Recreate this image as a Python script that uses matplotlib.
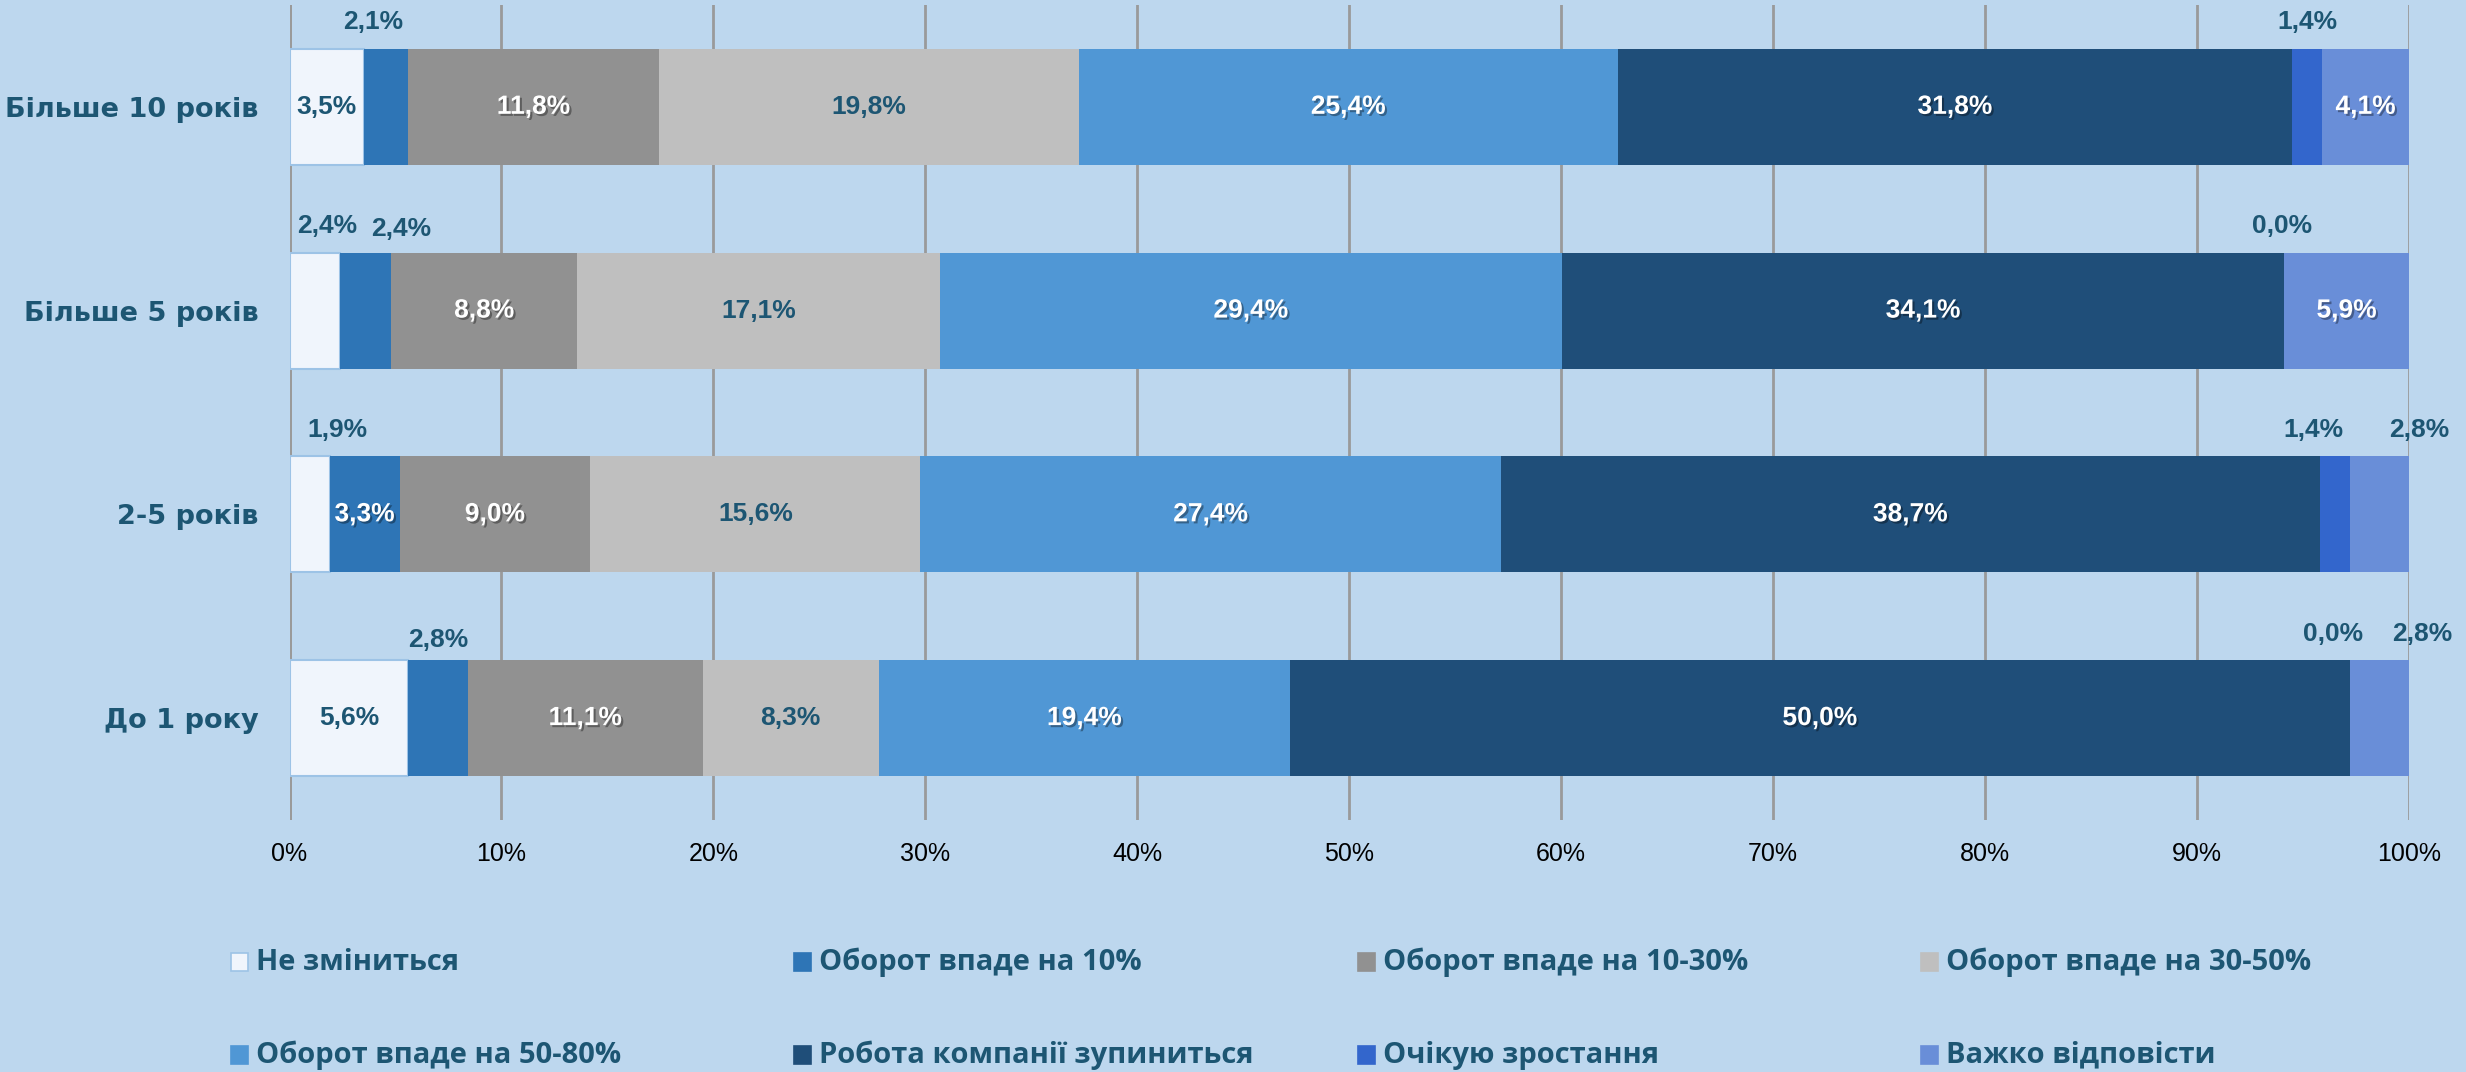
#!/usr/bin/env python3
"""Turnover expectations by company age — 100% stacked horizontal bars."""
import matplotlib

matplotlib.use("Agg")
import matplotlib.pyplot as plt  # noqa: E402
import matplotlib.patheffects as pe  # noqa: E402
from matplotlib.patches import Rectangle  # noqa: E402
import numpy as np  # noqa: E402

CATEGORIES = ["Більше 10 років", "Більше 5 років", "2-5 років", "До 1 року"]
SERIES = [
    "Не зміниться",
    "Оборот впаде на 10%",
    "Оборот впаде на 10-30%",
    "Оборот впаде на 30-50%",
    "Оборот впаде на 50-80%",
    "Робота компанії зупиниться",
    "Очікую зростання",
    "Важко відповісти",
]
# values per series, rows in CATEGORIES order
NO_CHANGE = [3.5, 2.4, 1.9, 5.6]
DROP_10 = [2.1, 2.4, 3.3, 2.8]
DROP_10_30 = [11.8, 8.8, 9.0, 11.1]
DROP_30_50 = [19.8, 17.1, 15.6, 8.3]
DROP_50_80 = [25.4, 29.4, 27.4, 19.4]
STOP = [31.8, 34.1, 38.7, 50.0]
GROWTH = [1.4, 0.0, 1.4, 0.0]
HARD = [4.1, 5.9, 2.8, 2.8]

VALUES = [NO_CHANGE, DROP_10, DROP_10_30, DROP_30_50, DROP_50_80, STOP, GROWTH, HARD]

COLORS = ["#f0f5fc", "#2e75b6", "#919191", "#bfbfbf",
          "#5097d5", "#1f4e79", "#3366cc", "#698ed8"]
EDGES = ["#9dc3e6", None, None, None, None, None, None, None]
# label colour inside a segment: dark teal on light fills, white on dark
INSIDE_WHITE = [False, True, True, False, True, True, True, True]

BG = "#bdd7ee"
TEAL = "#1d5673"
GRID = "#9a9a9a"
FONT = ["Open Sans", "DejaVu Sans"]
CAT_FONT = ["DejaVu Sans"]
LBL_FONT = ["Liberation Sans", "DejaVu Sans"]

# labels drawn above the bar: (row, series) -> (dx in %, extra dy in rows)
OUTSIDE = {
    (0, 1): (-0.6, 0.0), (0, 6): (0.0, 0.0),
    (1, 0): (0.6, 0.0), (1, 1): (1.65, 0.015), (1, 6): (-0.1, 0.0),
    (2, 0): (1.3, 0.0), (2, 6): (-1.0, 0.0), (2, 7): (1.9, 0.0),
    (3, 1): (0.0, 0.03), (3, 6): (-0.8, 0.0), (3, 7): (2.0, 0.0),
}

BAR_H = 0.57

fig = plt.figure(figsize=(24.66, 10.72), dpi=100, facecolor=BG)
ax = fig.add_axes([0.1174, 0.2351, 0.8595, 0.7603], facecolor=BG)

data = np.array(VALUES, dtype=float)          # series x rows
data = data / data.sum(axis=0) * 100.0        # 100% stacked
y = np.arange(len(CATEGORIES))
left = np.zeros(len(CATEGORIES))

shadow = [pe.SimplePatchShadow(offset=(1.5, -1.5), shadow_rgbFace="black", alpha=0.35),
          pe.Normal()]

for s, name in enumerate(SERIES):
    w = data[s]
    ax.barh(y, w, left=left, height=BAR_H, color=COLORS[s],
            edgecolor=EDGES[s] if EDGES[s] else COLORS[s],
            linewidth=1.5 if EDGES[s] else 0, zorder=2)
    for r in range(len(CATEGORIES)):
        txt = f"{VALUES[s][r]:.1f}%".replace(".", ",")
        cx = left[r] + w[r] / 2
        kw = dict(ha="center", va="center", fontsize=19, fontweight="bold",
                  family=LBL_FONT, zorder=4)
        if (r, s) in OUTSIDE:
            dx, dy = OUTSIDE[(r, s)]
            ax.text(cx + dx, y[r] - BAR_H / 2 - 0.13 + dy, txt, color=TEAL, **kw)
        elif INSIDE_WHITE[s]:
            ax.text(cx, y[r], txt, color="white", path_effects=shadow, **kw)
        else:
            ax.text(cx, y[r], txt, color=TEAL, **kw)
    left = left + w

ax.set_xlim(0, 100)
ax.set_ylim(len(CATEGORIES) - 0.5, -0.5)
ax.set_xticks(np.arange(0, 101, 10))
ax.set_xticklabels([f"{t}%" for t in range(0, 101, 10)], fontsize=18,
                   family=LBL_FONT, color="black")
ax.set_yticks(y)
ax.set_yticklabels(CATEGORIES, fontsize=19.5, fontweight="bold", family=CAT_FONT, color=TEAL)
ax.tick_params(axis="x", length=0, pad=16)
ax.tick_params(axis="y", length=0, pad=22)
ax.grid(True, axis="x", color=GRID, lw=2, zorder=0)
ax.set_axisbelow(True)
for sp in ax.spines.values():
    sp.set_visible(False)
ax.axvline(0, color=GRID, lw=2, zorder=1)

# legend: 2 rows x 4 columns, row-major like the original
col_x = 231 / 2466
col_dx = 563.3 / 2466
row_y = [1 - 962 / 1072, 1 - 1055 / 1072]
mw, mh = 17 / 2466, 18 / 1072
for i, name in enumerate(SERIES):
    c, r = i % 4, i // 4
    x0 = col_x + c * col_dx
    fig.patches.append(Rectangle((x0, row_y[r] - mh / 2), mw, mh, transform=fig.transFigure,
                                 facecolor=COLORS[i], edgecolor=EDGES[i] or COLORS[i],
                                 lw=1.2))
    fig.text(x0 + 25 / 2466, row_y[r], name, ha="left", va="center", fontsize=21,
             fontweight="bold", family=FONT, color=TEAL)

fig.savefig("out.png", dpi=100, facecolor=BG)
